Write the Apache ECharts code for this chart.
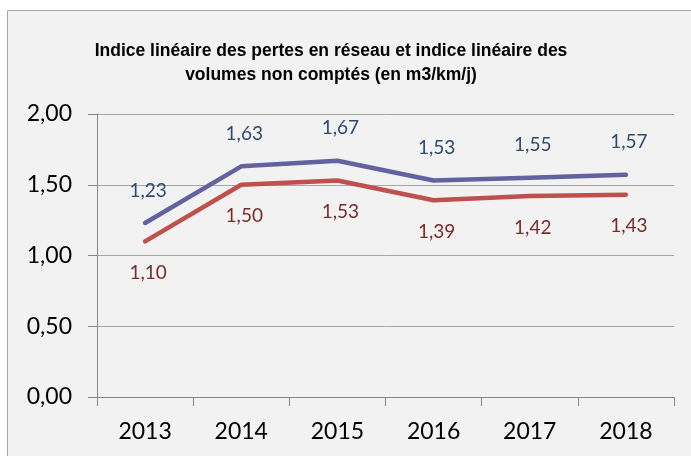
<!DOCTYPE html>
<html>
<head>
<meta charset="utf-8">
<script src="https://cdn.jsdelivr.net/npm/echarts@6/dist/echarts.min.js"></script>
<style>
html,body{margin:0;padding:0;background:#fff;}
#chart{width:691px;height:456px;}
</style>
</head>
<body>
<div id="chart"></div>
<script>
const titleLines = ['Indice linéaire des pertes en réseau et indice linéaire des', 'volumes non comptés (en m3/km/j)'];
const categories = ['2013', '2014', '2015', '2016', '2017', '2018'];
const pertesReseau = [1.23, 1.63, 1.67, 1.53, 1.55, 1.57];
const volumesNonComptes = [1.10, 1.50, 1.53, 1.39, 1.42, 1.43];
const yTicks = [0, 0.5, 1.0, 1.5, 2.0];

const fmt = v => v.toFixed(2).replace('.', ',');
const FONT = 'Lato, Carlito, Calibri, sans-serif';

const chart = echarts.init(document.getElementById('chart'), null, {renderer: 'canvas'});
chart.setOption({
  animation: false,
  backgroundColor: 'transparent',
  title: {
    text: titleLines.join('\n'),
    left: 326,
    textAlign: 'center',
    top: 34,
    textStyle: {
      fontFamily: 'Liberation Sans Narrow, Liberation Sans, Arial',
      fontWeight: 'bold',
      fontSize: 17.5,
      lineHeight: 24,
      color: '#000'
    }
  },
  graphic: [{
    type: 'rect',
    z: -10,
    silent: true,
    shape: {x: 7.5, y: 10.5, width: 700, height: 460},
    style: {fill: '#F2F2F2', stroke: '#A6A6A6', lineWidth: 1}
  }],
  grid: {left: 97, right: 17, top: 114, bottom: 59, containLabel: false},
  xAxis: {
    type: 'category',
    data: categories,
    boundaryGap: true,
    axisLine: {lineStyle: {color: '#868686', width: 1}},
    axisTick: {show: true, length: 9, lineStyle: {color: '#868686'}},
    axisLabel: {
      margin: 23,
      fontFamily: FONT,
      fontSize: 23,
      color: '#000'
    },
    splitLine: {show: false}
  },
  yAxis: {
    type: 'value',
    min: 0,
    max: 2,
    interval: 0.5,
    axisLine: {show: true, lineStyle: {color: '#868686', width: 1}},
    axisTick: {show: true, length: 9, lineStyle: {color: '#868686'}},
    axisLabel: {
      margin: 25,
      fontFamily: FONT,
      fontSize: 23,
      color: '#000',
      formatter: v => yTicks.includes(v) ? fmt(v) : ''
    },
    splitLine: {show: true, lineStyle: {color: '#A6A6A6', width: 1}}
  },
  series: [
    {
      name: 'Indice linéaire des pertes en réseau',
      type: 'line',
      data: pertesReseau,
      symbol: 'circle',
      symbolSize: 2,
      showSymbol: true,
      lineStyle: {color: '#6361A0', width: 4.5, cap: 'round', join: 'round'},
      itemStyle: {color: 'rgba(99,97,160,0)'},
      label: {
        show: true,
        position: 'top',
        distance: 22,
        offset: [3, 0],
        formatter: p => fmt(p.value),
        fontFamily: FONT,
        fontSize: 19,
        color: '#2F4A6E'
      }
    },
    {
      name: 'Indice linéaire des volumes non comptés',
      type: 'line',
      data: volumesNonComptes,
      symbol: 'circle',
      symbolSize: 2,
      showSymbol: true,
      lineStyle: {color: '#C0504D', width: 4.5, cap: 'round', join: 'round'},
      itemStyle: {color: 'rgba(192,80,77,0)'},
      label: {
        show: true,
        position: 'bottom',
        distance: 21,
        offset: [3, 0],
        formatter: p => fmt(p.value),
        fontFamily: FONT,
        fontSize: 19,
        color: '#772C2A'
      }
    }
  ]
});
</script>
</body>
</html>
